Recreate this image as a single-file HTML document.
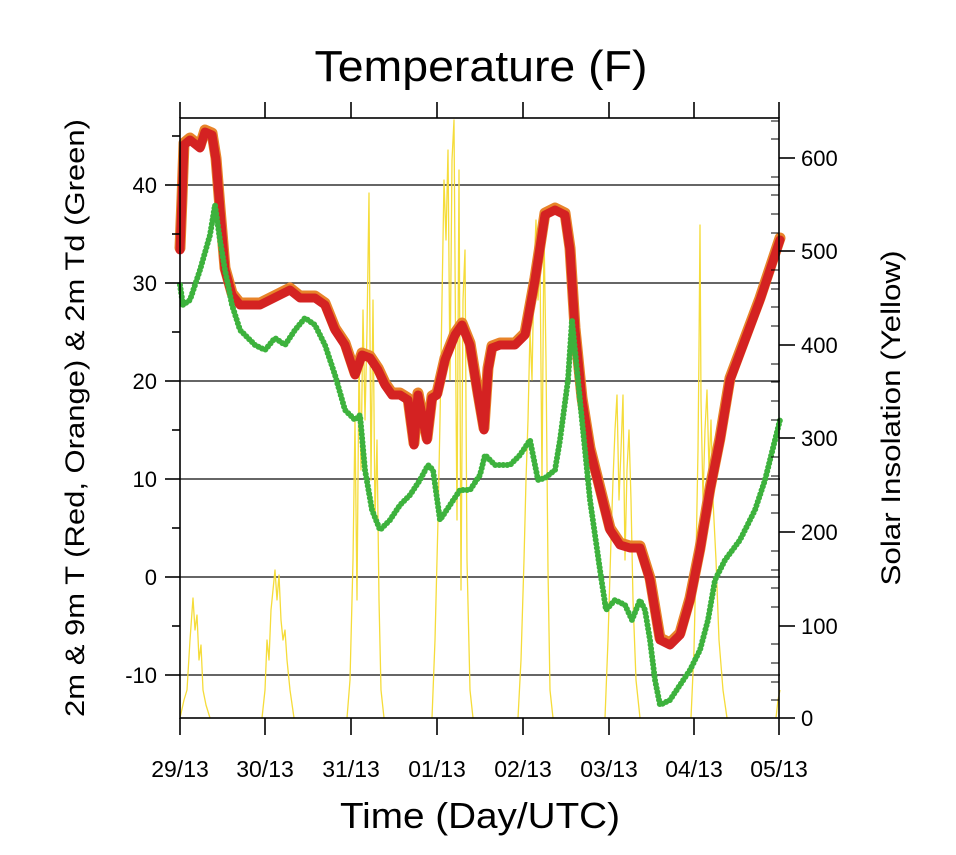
<!DOCTYPE html>
<html><head><meta charset="utf-8"><style>
html,body{margin:0;padding:0;background:#fff;}
svg{display:block;font-family:"Liberation Sans",sans-serif;}
</style></head><body>
<svg width="956" height="855" viewBox="0 0 956 855" xmlns="http://www.w3.org/2000/svg">
<rect width="956" height="855" fill="#fff"/>
<text x="481" y="81" font-size="44" text-anchor="middle" textLength="333" lengthAdjust="spacingAndGlyphs">Temperature (F)</text>
<g stroke="#000" stroke-width="1.6" opacity="0.8">
<line x1="180" y1="185" x2="780" y2="185"/>
<line x1="180" y1="283" x2="780" y2="283"/>
<line x1="180" y1="381" x2="780" y2="381"/>
<line x1="180" y1="479" x2="780" y2="479"/>
<line x1="180" y1="577" x2="780" y2="577"/>
<line x1="180" y1="675" x2="780" y2="675"/>
</g>
<g fill="none" stroke="#f5dc3a" stroke-width="1.3" stroke-linejoin="round">
<polyline points="180,718 184,700 187,690 190,640 193,598 195,630 197,615 199,660 201,645 203,690 206,705 210,718"/>
<polyline points="262,718 265,690 267,640 269,660 271,610 273,590 275,570 277,600 279,575 281,620 283,640 285,630 287,660 290,690 294,718"/>
<polyline points="347,718 350,680 353,560 355,420 357,600 359,360 361,470 363,310 365,420 367,330 369,193 371,480 373,300 375,520 377,440 379,600 381,690 384,718"/>
<polyline points="432,718 435,640 438,520 440,420 442,300 444,180 446,240 448,150 450,380 452,160 454,120 456,400 457,520 459,170 461,590 463,300 465,250 467,560 470,690 473,718"/>
<polyline points="518,718 521,660 524,560 526,480 528,420 530,330 532,380 534,270 536,220 538,300 540,260 542,480 544,230 546,360 548,570 550,690 553,718"/>
<polyline points="605,718 608,640 611,540 613,480 615,430 617,395 619,500 621,450 623,395 625,560 627,470 629,430 631,500 633,600 636,680 640,718"/>
<polyline points="691,718 694,650 696,560 698,450 699,350 700,225 701,400 703,500 705,430 707,390 709,470 711,420 713,500 716,560 719,640 723,690 727,718"/>
<polyline points="776,718 778,700 780,690"/>
</g>
<polyline fill="none" stroke="#e8842a" stroke-width="11" stroke-linejoin="round" stroke-linecap="round" points="180,248 182,198 184,143 190,138 200,146 205,130 212,133 216,158 220,208 225,268 232,293 240,303 260,303 280,293 290,288 300,296 315,296 325,303 335,328 345,343 355,373 362,353 370,356 378,368 385,383 392,393 400,393 408,398 414,443 418,393 422,413 427,438 432,396 437,393 445,358 455,333 462,323 470,343 478,393 484,428 488,368 492,346 500,343 515,343 525,333 535,278 545,213 555,208 565,213 570,248 575,328 582,398 590,448 600,488 610,528 620,543 630,546 640,546 650,578 660,638 670,643 680,633 690,598 700,548 710,488 720,438 730,378 745,338 760,298 770,268 780,238"/>
<polyline fill="none" stroke="#d42222" stroke-width="9" stroke-linejoin="round" stroke-linecap="round" points="180,250 182,200 184,145 190,140 200,148 205,132 212,135 216,160 220,210 225,270 232,295 240,305 260,305 280,295 290,290 300,298 315,298 325,305 335,330 345,345 355,375 362,355 370,358 378,370 385,385 392,395 400,395 408,400 414,445 418,395 422,415 427,440 432,398 437,395 445,360 455,335 462,325 470,345 478,395 484,430 488,370 492,348 500,345 515,345 525,335 535,280 545,215 555,210 565,215 570,250 575,330 582,400 590,450 600,490 610,530 620,545 630,548 640,548 650,580 660,640 670,645 680,635 690,600 700,550 710,490 720,440 730,380 745,340 760,300 770,270 780,240"/>
<polyline fill="none" stroke="#3db23d" stroke-width="6" stroke-dasharray="0 4" stroke-linecap="round" stroke-linejoin="round" points="180,285 183,305 190,300 200,270 210,235 215,205 220,240 225,270 232,305 240,330 255,345 265,350 275,338 285,345 295,330 305,318 315,325 325,345 335,375 345,410 355,420 360,415 365,470 372,510 380,530 390,520 400,505 410,495 420,480 428,465 433,470 440,520 450,505 460,490 470,490 480,475 485,455 495,465 510,465 520,455 530,440 538,480 545,478 555,470 560,440 568,380 572,320 578,380 582,420 590,500 600,570 606,610 615,600 625,605 632,620 640,600 645,610 650,640 655,680 660,705 670,700 680,685 690,670 700,650 708,620 715,580 725,560 740,540 755,510 765,480 780,420"/>
<rect x="180" y="118" width="599" height="600" fill="none" stroke="#000" stroke-width="1.6"/>
<g stroke="#000" stroke-width="1.6">
<line x1="180" y1="718" x2="180" y2="735"/><line x1="265" y1="718" x2="265" y2="735"/><line x1="351" y1="718" x2="351" y2="735"/><line x1="437" y1="718" x2="437" y2="735"/><line x1="523" y1="718" x2="523" y2="735"/><line x1="609" y1="718" x2="609" y2="735"/><line x1="694" y1="718" x2="694" y2="735"/><line x1="779" y1="718" x2="779" y2="735"/>
<line x1="180" y1="118" x2="180" y2="102"/><line x1="265" y1="118" x2="265" y2="102"/><line x1="351" y1="118" x2="351" y2="102"/><line x1="437" y1="118" x2="437" y2="102"/><line x1="523" y1="118" x2="523" y2="102"/><line x1="609" y1="118" x2="609" y2="102"/><line x1="694" y1="118" x2="694" y2="102"/><line x1="779" y1="118" x2="779" y2="102"/>
<line x1="165" y1="185" x2="180" y2="185"/><line x1="165" y1="283" x2="180" y2="283"/><line x1="165" y1="381" x2="180" y2="381"/><line x1="165" y1="479" x2="180" y2="479"/><line x1="165" y1="577" x2="180" y2="577"/><line x1="165" y1="675" x2="180" y2="675"/>
<line x1="172" y1="136" x2="180" y2="136"/><line x1="172" y1="234" x2="180" y2="234"/><line x1="172" y1="332" x2="180" y2="332"/><line x1="172" y1="430" x2="180" y2="430"/><line x1="172" y1="528" x2="180" y2="528"/><line x1="172" y1="626" x2="180" y2="626"/>
<line x1="779" y1="158" x2="795" y2="158"/><line x1="779" y1="251" x2="795" y2="251"/><line x1="779" y1="345" x2="795" y2="345"/><line x1="779" y1="438" x2="795" y2="438"/><line x1="779" y1="532" x2="795" y2="532"/><line x1="779" y1="626" x2="795" y2="626"/><line x1="779" y1="718" x2="795" y2="718"/>
</g>
<g stroke="#000" stroke-width="1">
<line x1="771" y1="121" x2="779" y2="121"/><line x1="771" y1="139" x2="779" y2="139"/><line x1="771" y1="177" x2="779" y2="177"/><line x1="771" y1="195" x2="779" y2="195"/><line x1="771" y1="214" x2="779" y2="214"/><line x1="771" y1="233" x2="779" y2="233"/><line x1="771" y1="270" x2="779" y2="270"/><line x1="771" y1="289" x2="779" y2="289"/><line x1="771" y1="307" x2="779" y2="307"/><line x1="771" y1="326" x2="779" y2="326"/><line x1="771" y1="364" x2="779" y2="364"/><line x1="771" y1="382" x2="779" y2="382"/><line x1="771" y1="401" x2="779" y2="401"/><line x1="771" y1="420" x2="779" y2="420"/><line x1="771" y1="457" x2="779" y2="457"/><line x1="771" y1="476" x2="779" y2="476"/><line x1="771" y1="495" x2="779" y2="495"/><line x1="771" y1="513" x2="779" y2="513"/><line x1="771" y1="551" x2="779" y2="551"/><line x1="771" y1="570" x2="779" y2="570"/><line x1="771" y1="588" x2="779" y2="588"/><line x1="771" y1="607" x2="779" y2="607"/><line x1="771" y1="644" x2="779" y2="644"/><line x1="771" y1="663" x2="779" y2="663"/><line x1="771" y1="682" x2="779" y2="682"/><line x1="771" y1="700" x2="779" y2="700"/>
</g>
<g font-size="22" text-anchor="end">
<text x="157" y="193">40</text><text x="157" y="291">30</text><text x="157" y="389">20</text><text x="157" y="487">10</text><text x="157" y="585">0</text><text x="157" y="683">-10</text>
</g>
<g font-size="22" text-anchor="start">
<text x="801" y="166">600</text><text x="801" y="259">500</text><text x="801" y="353">400</text><text x="801" y="446">300</text><text x="801" y="540">200</text><text x="801" y="634">100</text><text x="801" y="726">0</text>
</g>
<g font-size="23" text-anchor="middle">
<text x="180" y="777">29/13</text><text x="265" y="777">30/13</text><text x="351" y="777">31/13</text><text x="437" y="777">01/13</text><text x="523" y="777">02/13</text><text x="609" y="777">03/13</text><text x="694" y="777">04/13</text><text x="779" y="777">05/13</text>
</g>
<text x="480" y="828" font-size="36" text-anchor="middle" textLength="280" lengthAdjust="spacingAndGlyphs">Time (Day/UTC)</text>
<text transform="translate(84,418) rotate(-90)" font-size="27" text-anchor="middle" textLength="598" lengthAdjust="spacingAndGlyphs">2m &amp; 9m T (Red, Orange) &amp; 2m Td (Green)</text>
<text transform="translate(900,418) rotate(-90)" font-size="27" text-anchor="middle" textLength="335" lengthAdjust="spacingAndGlyphs">Solar Insolation (Yellow)</text>
</svg>
</body></html>
